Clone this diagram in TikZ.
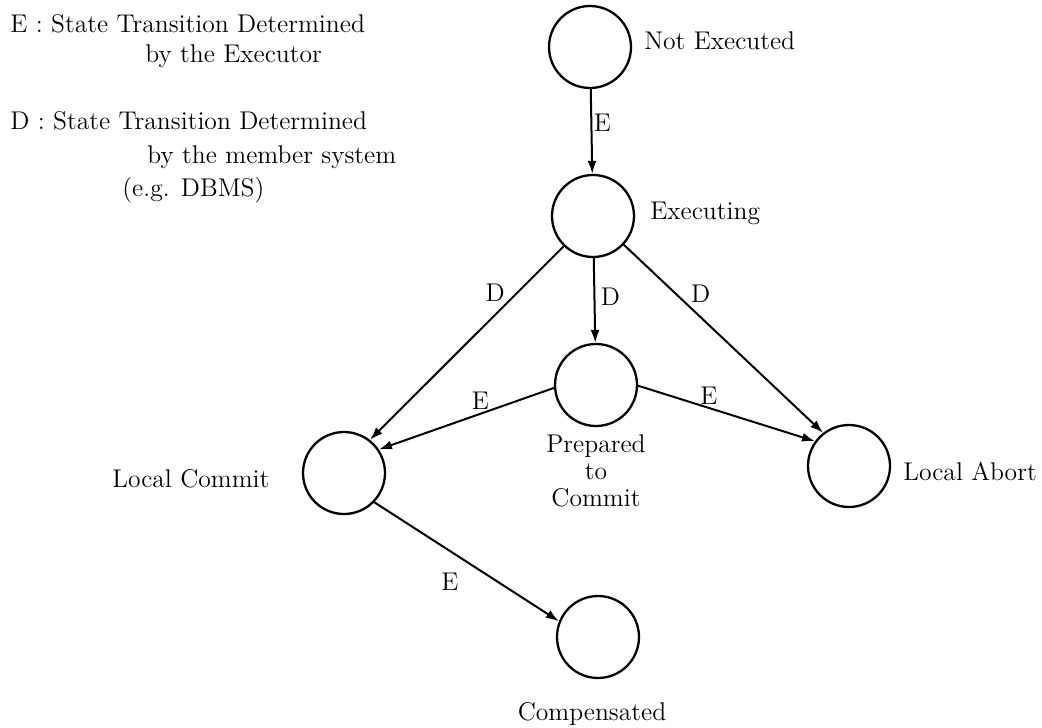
\documentclass[tikz,border=0pt]{standalone}
\usetikzlibrary{arrows.meta}
\begin{document}
\begin{tikzpicture}[x=0.5pt,y=-0.5pt,
  state/.style={circle,draw,line width=1.15pt,minimum size=41pt,inner sep=0pt},
  tr/.style={draw,line width=1pt,-{Latex[length=6.5pt,width=4.5pt]}},
  lbl/.style={font=\fontsize{12.8}{15}\selectfont,inner sep=0pt}]
\useasboundingbox (0,0) rectangle (1042,727);
% states
\node[state] (ne) at (590,47) {};
\node[state] (ex) at (593,216) {};
\node[state] (pr) at (596,385) {};
\node[state] (lc) at (344,473) {};
\node[state] (la) at (849,466) {};
\node[state] (co) at (598,637) {};
% state names
\node[lbl,anchor=base west] (tne) at (644,50) {Not Executed};
\node[lbl,anchor=base west] (tex) at (650,220) {Executing};
\node[lbl,anchor=base west] (tlc) at (112,487) {Local Commit};
\node[lbl,anchor=base west] (tla) at (903,480) {Local Abort};
\node[lbl,anchor=base] (tpr1) at (596,452) {Prepared};
\node[lbl,anchor=base] (tpr2) at (596,479) {to};
\node[lbl,anchor=base] (tpr3) at (596,506) {Commit};
\node[lbl,anchor=base] (tco) at (592,720) {Compensated};
% legend
\node[lbl,anchor=base west] (k1) at (10,33) {E : State Transition Determined};
\node[lbl,anchor=base west] (k2) at (145,63) {by the Executor};
\node[lbl,anchor=base west] (k3) at (10,130) {D : State Transition Determined};
\node[lbl,anchor=base west] (k4) at (147,163) {by the member system};
\node[lbl,anchor=base west] (k5) at (122,197) {(e.g. DBMS)};
% transitions
\draw[tr] (ne) -- (ex) node[lbl,pos=0.4,shift={(11,0)}] (l1) {E};
\draw[tr] (ex.226) -- (lc.52) node[lbl,pos=0.24,shift={(-22,0)}] (l2) {D};
\draw[tr] (ex) -- (pr) node[lbl,pos=0.46,shift={(16,0)}] (l3) {D};
\draw[tr] (ex.317) -- (la.128) node[lbl,pos=0.26,shift={(25,0)}] (l4) {D};
\draw[tr] (pr.184) -- (lc.34) node[lbl,pos=0.42,shift={(0,-13)}] (l5) {E};
\draw[tr] (pr.359) -- (la.144) node[lbl,pos=0.40,shift={(0,-12)}] (l6) {E};
\draw[tr] (lc.316) -- (co.158) node[lbl,pos=0.41,shift={(0,31)}] (l7) {E};
\end{tikzpicture}
\end{document}
